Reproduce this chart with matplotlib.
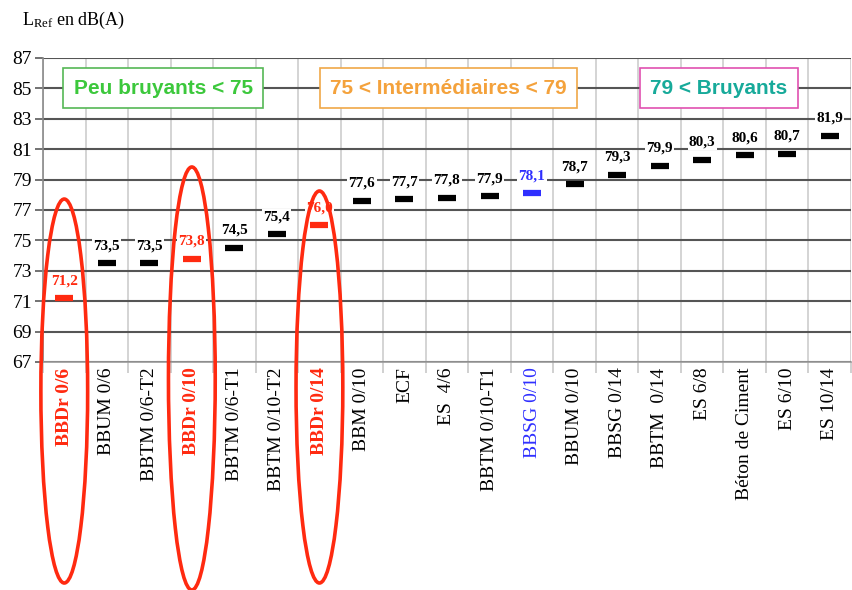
import matplotlib
matplotlib.use("Agg")
import matplotlib.pyplot as plt
from matplotlib.patches import Ellipse
import numpy as np

categories = ["BBDr 0/6", "BBUM 0/6", "BBTM 0/6-T2", "BBDr 0/10", "BBTM 0/6-T1",
              "BBTM 0/10-T2", "BBDr 0/14", "BBM 0/10", "ECF", "ES  4/6",
              "BBTM 0/10-T1", "BBSG 0/10", "BBUM 0/10", "BBSG 0/14", "BBTM  0/14",
              "ES 6/8", "Béton de Ciment", "ES 6/10", "ES 10/14"]
values = [71.2, 73.5, 73.5, 73.8, 74.5, 75.4, 76.0, 77.6, 77.7, 77.8,
          77.9, 78.1, 78.7, 79.3, 79.9, 80.3, 80.6, 80.7, 81.9]
value_labels = ["71,2", "73,5", "73,5", "73,8", "74,5", "75,4", "76,0", "77,6", "77,7", "77,8",
                "77,9", "78,1", "78,7", "79,3", "79,9", "80,3", "80,6", "80,7", "81,9"]
yticks = [67, 69, 71, 73, 75, 77, 79, 81, 83, 85, 87]

RED = "#ff2a10"
BLUE = "#2f2fff"

def color_of(name):
    if name.startswith("BBDr"):
        return RED
    if name == "BBSG 0/10":
        return BLUE
    return "black"

plt.rcParams["mathtext.fontset"] = "custom"
plt.rcParams["mathtext.rm"] = "Liberation Serif"
plt.rcParams["mathtext.it"] = "Liberation Serif:italic"

fig = plt.figure(figsize=(8.53, 5.90), dpi=100)
ax = fig.add_axes([43/853, 1 - 362/590, (851 - 43)/853, (362 - 58)/590])

n = len(categories)
x = np.arange(n)
ax.set_xlim(-0.5, n - 0.5)
ax.set_ylim(67, 87)

# gridlines
ax.set_yticks(yticks)
ax.set_yticklabels([str(v) for v in yticks], fontfamily="Liberation Serif", fontsize=14)
ax.yaxis.grid(True, color="#555555", lw=1.5, zorder=0)
ax.set_xticks(x)
ax.set_xticks(np.arange(-0.5, n, 1.0), minor=True)
ax.xaxis.grid(True, which="minor", color="#d4d4d4", lw=1.4, zorder=0)
ax.tick_params(axis="x", which="major", length=0, pad=4)
ax.tick_params(axis="x", which="minor", length=8, color="#c8c8c8", width=1.2)
ax.tick_params(axis="y", length=6, color="#5a5a5a", width=1.2, pad=2)
ax.set_xticklabels(categories, rotation=90, va="top", ha="center",
                   fontfamily="Liberation Serif", fontsize=14)
for lbl, name in zip(ax.get_xticklabels(), categories):
    c = color_of(name)
    lbl.set_color(c)
    if name.startswith("BBDr"):
        lbl.set_fontweight("bold")

for s in ["top", "right"]:
    ax.spines[s].set_visible(False)
ax.spines["left"].set_color("#8a8a8a")
ax.spines["left"].set_linewidth(1.2)
ax.spines["bottom"].set_color("#9a9a9a")
ax.spines["bottom"].set_linewidth(1.2)
ax.axhline(87, color="#b0b0b0", lw=1.4, zorder=0)

# markers and labels
for xi, v, lab, name in zip(x, values, value_labels, categories):
    c = color_of(name)
    ax.plot([xi], [v], marker="_", ms=13, mew=4.5, color=c, zorder=4, clip_on=False)
    ax.annotate(lab, (xi, v), xytext=(0, 8), textcoords="offset points",
                ha="center", va="bottom", fontsize=11, fontweight="bold",
                fontfamily="Liberation Serif", color=c, zorder=5,
                bbox=dict(boxstyle="square,pad=0.08", fc="white", ec="none"))

# category boxes
boxes = [
    ("Peu bruyants < 75", 2.33, "#3cc83c", "#55b855"),
    ("75 < Intermédiaires < 79", 9.03, "#f4a23c", "#f0a848"),
    ("79 < Bruyants", 15.39, "#17aa9a", "#e050b0"),
]
for txt, xc, tc, ec in boxes:
    ax.text(xc, 85.0, txt, ha="center", va="center", fontsize=15, fontweight="bold",
            fontfamily="Liberation Sans", color=tc, zorder=6,
            bbox=dict(boxstyle="square,pad=0.5", fc="white", ec=ec, lw=1.2))

# red ellipses around BBDr categories
ell_y = {"BBDr 0/6": (52.46, 77.72), "BBDr 0/10": (52.0, 79.83), "BBDr 0/14": (52.46, 78.25)}
for i, name in enumerate(categories):
    if name in ell_y:
        lo, hi = ell_y[name]
        e = Ellipse((i, (lo + hi) / 2), width=1.1, height=hi - lo, fill=False,
                    ec=RED, lw=2.6, zorder=7, clip_on=False)
        ax.add_patch(e)

fig.text(22/853, 1 - 20/590, r"L$_{\mathrm{Ref}}$ en dB(A)", fontsize=13,
         fontfamily="Liberation Serif", ha="left", va="center")

fig.savefig("out.png", dpi=100)
